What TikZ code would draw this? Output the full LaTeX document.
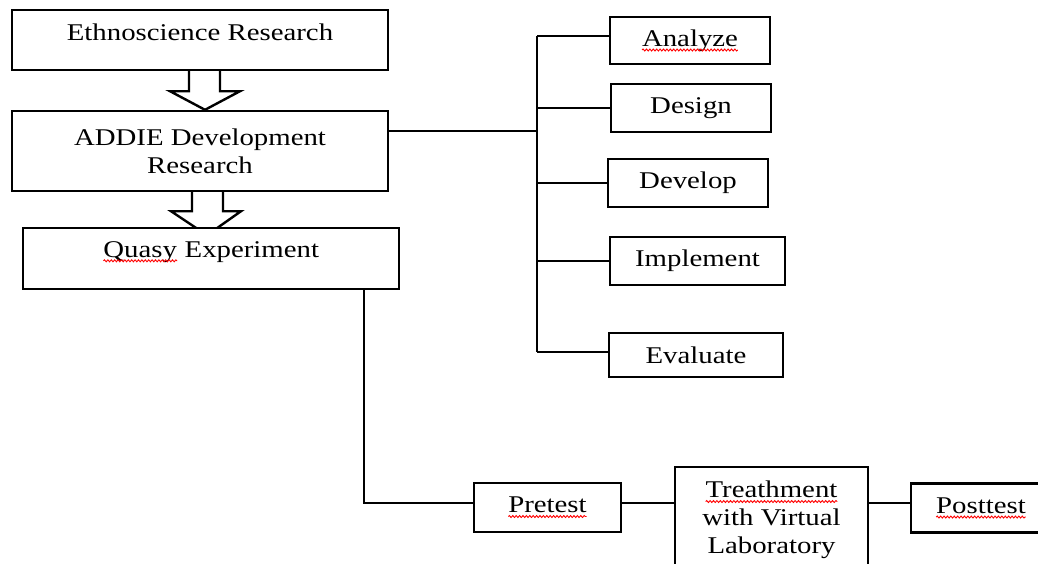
\documentclass[tikz,border=0pt]{standalone}
\usepackage{fontspec}
\setmainfont[FakeStretch=1.2]{Liberation Serif}
\usetikzlibrary{calc,decorations.pathmorphing}
\newcommand\sqw[1]{\tikz[baseline=(w.base)]{\node[draw=none,fill=none,inner sep=0pt,outer sep=0pt,minimum width=0pt,minimum height=0pt,text height=,text depth=] (w) {#1};
  \draw[red,line width=0.9pt,decorate,decoration={snake,amplitude=1pt,segment length=3.4pt}] ([yshift=-3.8pt]w.base west) -- ([yshift=-3.8pt]w.base east);}}
\tikzset{
  box/.style={draw, line width=2.4pt, fill=white, align=center, inner sep=2pt,
    font=\fontsize{24}{28}\selectfont},
  blk/.style={draw, line width=2.4pt, fill=white, line join=miter},
  conn/.style={line width=2pt}
}
\begin{document}
\begin{tikzpicture}[x=1pt,y=-1pt]
\useasboundingbox (0,0) rectangle (1038,563);
\clip (0,0) rectangle (1038,563);
% left column
\node[box, minimum width=376pt, minimum height=60pt, text height=16pt, text depth=16pt] (eth) at (200,40) {Ethnoscience Research};
\node[box, minimum width=376pt, minimum height=80pt] (add) at (200,151) {ADDIE Development\\Research};
\draw[blk] ($(eth.south)+(-11,0)$) -- ($(eth.south)+(-11,20)$) -- ($(eth.south)+(-30,20)$)
  -- ($(add.north)+(5,0)$) -- ($(eth.south)+(40,20)$) -- ($(eth.south)+(20,20)$) -- ($(eth.south)+(20,0)$);
\draw[blk] ($(add.south)+(-8,0)$) -- ($(add.south)+(-8,19)$) -- ($(add.south)+(-29,19)$)
  -- ($(add.south)+(7,43)$) -- ($(add.south)+(41,19)$) -- ($(add.south)+(23,19)$) -- ($(add.south)+(23,0)$);
\node[box, minimum width=376pt, minimum height=61pt, text height=16pt, text depth=19pt] (qua) at (211,258.5) {\sqw{Quasy} Experiment};
% ADDIE steps
\node[box, minimum width=160pt, minimum height=47pt] (an) at (690,40.5) {\sqw{Analyze}};
\node[box, minimum width=160pt, minimum height=48pt] (de) at (691,108) {Design};
\node[box, minimum width=160pt, minimum height=48pt] (dv) at (688,183) {Develop};
\node[box, minimum width=175pt, minimum height=48pt] (im) at (697.5,261) {Implement};
\node[box, minimum width=174pt, minimum height=44pt] (ev) at (696,355) {Evaluate};
\coordinate (trTop) at (537,36);
\coordinate (trBot) at (537,352);
\coordinate (trMid) at (537,131);
\draw[conn] ($(add.east)+(0,-20)$) -- (trMid);
\draw[conn] (trTop) -- (trBot);
\draw[conn] (trTop) -- (an.west |- trTop);
\draw[conn] (trTop |- de.west) -- (de.west);
\draw[conn] (trTop |- dv.west) -- (dv.west);
\draw[conn] (trTop |- im.west) -- (im.west);
\draw[conn] (trBot) -- (ev.west |- trBot);
% experiment
\node[box, minimum width=147pt, minimum height=49pt] (pre) at (547.5,507.5) {\sqw{Pretest}};
\node[box, minimum width=193pt, minimum height=106pt] (trt) at (771.5,520) {\sqw{Treathment}\\with Virtual\\Laboratory};
\node[box, minimum width=140pt, minimum height=49pt] (post) at (981,508) {\sqw{Posttest}};
\coordinate (qdown) at ($(qua.south east)+(-36,0)$);
\draw[conn] (qdown) |- ($(pre.west)+(0,-5)$);
\draw[conn] ($(pre.east)+(0,-5)$) -- (trt.west |- {$(pre.east)+(0,-5)$});
\draw[conn] ($(trt.east |- pre.east)+(0,-5)$) -- (post.west |- {$(pre.east)+(0,-5)$});
\end{tikzpicture}
\end{document}
